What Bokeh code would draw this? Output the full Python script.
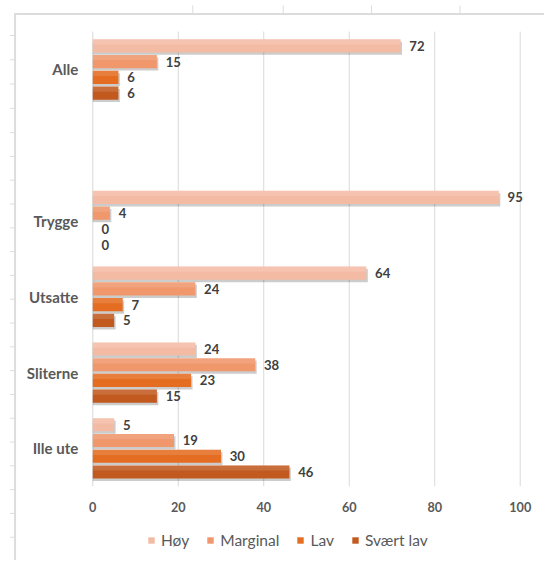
from bokeh.plotting import figure
from bokeh.models import Range1d, Legend, LegendItem
from bokeh.core.properties import value
from bokeh.embed import file_html
from bokeh.resources import INLINE

# ---------------- data ----------------
categories = ["Alle", "", "Trygge", "Utsatte", "Sliterne", "Ille ute"]
series = ["Høy", "Marginal", "Lav", "Svært lav"]
hoy = [72, None, 95, 64, 24, 5]
marginal = [15, None, 4, 24, 38, 19]
lav = [6, None, 0, 7, 23, 30]
svaert_lav = [6, None, 0, 5, 15, 46]
x_ticks = [0, 20, 40, 60, 80, 100]
x_tick_labels = ["0", "20", "40", "60", "80", "100"]

colors = ["#F4BBA4", "#F0976C", "#E46D22", "#C25A1F"]
values = [hoy, marginal, lav, svaert_lav]

# ---------------- layout ----------------
W, H = 544, 560
S = W / 560.0                   # scale from reference px to figure px
RW, RH = W / S, H / S           # figure size in reference px
X_ZERO, X_SCALE = 95, 4.4       # ref px of x=0, ref px per unit
Y_CAT0, BAND = 71, 78           # ref px of first category centre, ref px per category
STEP = 16.2 / BAND
BAR_H = 13.5 / BAND


def fs(px):
    return "%.2fpx" % (px * S)


x_range = Range1d((0 - X_ZERO) / X_SCALE, (RW - X_ZERO) / X_SCALE)
y_range = Range1d((RH - Y_CAT0) / BAND, (0 - Y_CAT0) / BAND)

p = figure(width=W, height=H, output_backend="svg", toolbar_location=None,
           x_range=x_range, y_range=y_range, min_border=0,
           x_axis_location=None, y_axis_location=None,
           outline_line_color=None, background_fill_color="white",
           border_fill_color="white")
p.grid.visible = False
p.extra_x_ranges = {"px": Range1d(0, RW)}
p.extra_y_ranges = {"px": Range1d(RH, 0)}

# spreadsheet-like decoration lines
p.segment(x0=[14], y0=[14], x1=[RW], y1=[14], line_color="#DCDCDC",
          line_width=2, x_range_name="px", y_range_name="px")
p.segment(x0=[15], y0=[14], x1=[15], y1=[RH], line_color="#DCDCDC",
          line_width=2, x_range_name="px", y_range_name="px")
left_ticks = [36 + 25 * k for k in range(5)] + [160.5 + 24.5 * k for k in range(17)]
p.segment(x0=[10] * len(left_ticks), y0=left_ticks, x1=[15] * len(left_ticks),
          y1=left_ticks, line_color="#DCDCDC", line_width=1,
          x_range_name="px", y_range_name="px")
top_ticks = [198, 291, 382, 473]
p.segment(x0=top_ticks, y0=[5] * 4, x1=top_ticks, y1=[14] * 4,
          line_color="#DCDCDC", line_width=1, x_range_name="px", y_range_name="px")

# gridlines
n_cat = len(categories)
p.segment(x0=x_ticks, y0=[-0.5] * len(x_ticks), x1=x_ticks, y1=[n_cat - 0.5] * len(x_ticks),
          line_color="#D9D9D9", line_width=1)

# bars
renderers = []
for i, (name, vals, col) in enumerate(zip(series, values, colors)):
    off = (i - 1.5) * STEP
    ys = [k + off for k, v in enumerate(vals) if v is not None]
    vs = [v for v in vals if v is not None]
    # soft shadow
    nz = [(y, v) for y, v in zip(ys, vs) if v > 0]
    p.hbar(y=[y + 2.5 / BAND for y, v in nz], left=0, right=[v + 1.5 / X_SCALE for y, v in nz],
           height=BAR_H, fill_color="#000000", fill_alpha=0.2, line_color=None)
    r = p.hbar(y=ys, left=0, right=vs, height=BAR_H, fill_color=col, line_color=None)
    # top highlight (gradient feel)
    p.hbar(y=[y - BAR_H * 0.3 for y in ys], left=0, right=vs, height=BAR_H * 0.4,
           fill_color="white", fill_alpha=0.12, line_color=None)
    renderers.append(r)
    p.text(x=vs, y=ys, text=[str(v) for v in vs], x_offset=9 * S,
           text_align="left", text_baseline="middle",
           text_font=value("Lato"), text_font_style="bold",
           text_font_size=fs(13.5), text_color="#404040")

# category labels
cy = [k for k, c in enumerate(categories) if c]
ct = [c for c in categories if c]
p.text(x=[0] * len(cy), y=cy, text=ct, x_offset=-15 * S, text_align="right",
       text_baseline="middle", text_font=value("Lato"), text_font_style="bold",
       text_font_size=fs(15.5), text_color="#595959")

# x tick labels
p.text(x=x_ticks, y=[521] * len(x_ticks), text=x_tick_labels, y_range_name="px",
       text_align="center", text_baseline="middle", text_font=value("Lato"),
       text_font_style="bold", text_font_size=fs(13), text_color="#595959")

# legend
legend = Legend(items=[LegendItem(label=s, renderers=[r]) for s, r in zip(series, renderers)],
                orientation="horizontal", location=(147, 11),
                label_text_font="Lato", label_text_font_size=fs(16),
                label_text_color="#595959", glyph_width=8, glyph_height=8,
                label_standoff=6, spacing=17, padding=0, margin=0,
                label_height=16, border_line_color=None, background_fill_alpha=0)
p.add_layout(legend)

open("out.html", "w").write(file_html(p, INLINE))
